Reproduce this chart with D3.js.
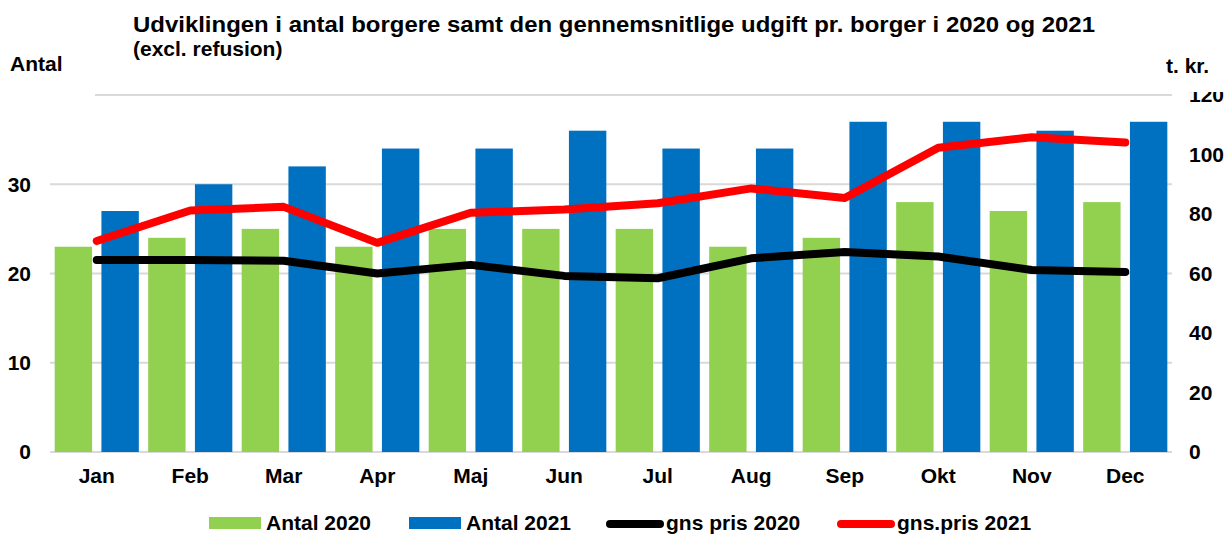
<!DOCTYPE html>
<html>
<head>
<meta charset="utf-8">
<style>
  body { margin: 0; background: #fff; }
  svg { font-family: "Liberation Sans", Arial, Helvetica, sans-serif; font-weight: bold; }
  .grid line { stroke: #d9d9d9; stroke-width: 2px; }
  .tick-label { font-size: 21px; fill: #000; }
  .legend text { font-size: 21px; }
</style>
</head>
<body>
<script src="https://cdnjs.cloudflare.com/ajax/libs/d3/7.8.5/d3.min.js"></script>
<script>

  var months = ["Jan", "Feb", "Mar", "Apr", "Maj", "Jun", "Jul", "Aug", "Sep", "Okt", "Nov", "Dec"];
  var antal2020 = [23, 24, 25, 23, 25, 25, 25, 23, 24, 28, 27, 28];
  var antal2021 = [27, 30, 32, 34, 34, 36, 34, 34, 37, 37, 36, 37];
  var pris2020 = [64.5, 64.5, 64.3, 60, 62.9, 59.2, 58.4, 65.1, 67.2, 65.7, 61.2, 60.5];
  var pris2021 = [70.9, 81.2, 82.4, 70.3, 80.4, 81.5, 83.6, 88.6, 85.4, 102.3, 105.8, 104];
  var leftTicks = [0, 10, 20, 30, 40];
  var rightTicks = [0, 20, 40, 60, 80, 100, 120];

  var width = 1227, height = 535;
  var plot = { left: 50, right: 1172, top: 95, bottom: 452 };

  var svg = d3.select("body").append("svg")
      .attr("width", width)
      .attr("height", height);

  var x0 = d3.scaleBand()
      .domain(months)
      .range([plot.left, plot.right])
      .paddingInner(0.1)
      .paddingOuter(0.05);

  var x1 = d3.scaleBand()
      .domain([0, 1])
      .range([0, x0.bandwidth()])
      .paddingInner(0.2);

  var yL = d3.scaleLinear().domain([0, 40]).range([plot.bottom, plot.top]);
  var yR = d3.scaleLinear().domain([0, 120]).range([plot.bottom, plot.top]);

  // gridlines (top one starts later, behind the "Antal" label)
  svg.append("g")
      .attr("class", "grid")
      .selectAll("line")
      .data(leftTicks)
      .join("line")
      .attr("x1", function(d) { return d === 40 ? 95 : plot.left; })
      .attr("x2", plot.right)
      .attr("y1", function(d) { return yL(d); })
      .attr("y2", function(d) { return yL(d); });

  // bars
  var series = [antal2020, antal2021];
  var barColors = ["#92d050", "#0070c0"];

  series.forEach(function(vals, si) {
    svg.append("g")
        .selectAll("rect")
        .data(vals)
        .join("rect")
        .attr("x", function(d, i) { return x0(months[i]) + x1(si); })
        .attr("width", x1.bandwidth())
        .attr("y", function(d) { return yL(d); })
        .attr("height", function(d) { return yL(0) - yL(d); })
        .attr("fill", barColors[si]);
  });

  // lines
  var line = d3.line()
      .x(function(d, i) { return x0(months[i]) + x0.bandwidth() / 2; })
      .y(function(d) { return yR(d); });

  [[pris2020, "#000000"], [pris2021, "#ff0000"]].forEach(function(s) {
    svg.append("path")
        .datum(s[0])
        .attr("d", line)
        .attr("fill", "none")
        .attr("stroke", s[1])
        .attr("stroke-width", 8)
        .attr("stroke-linecap", "round")
        .attr("stroke-linejoin", "round");
  });

  // left axis labels
  svg.append("g")
      .selectAll("text")
      .data(leftTicks.slice(0, 4))
      .join("text")
      .attr("class", "tick-label")
      .attr("x", 31)
      .attr("y", function(d) { return yL(d); })
      .attr("dy", "0.35em")
      .attr("text-anchor", "end")
      .text(function(d) { return d; });

  // right axis labels
  svg.append("g")
      .selectAll("text")
      .data(rightTicks)
      .join("text")
      .attr("class", "tick-label")
      .attr("x", 1189)
      .attr("y", function(d) { return yR(d); })
      .attr("dy", "0.35em")
      .text(function(d) { return d; });

  // white box of the unit label clips the top "120"
  svg.append("rect")
      .attr("x", 1180).attr("y", 76)
      .attr("width", 47).attr("height", 16)
      .attr("fill", "#fff");

  // month labels
  svg.append("g")
      .selectAll("text")
      .data(months)
      .join("text")
      .attr("class", "tick-label")
      .attr("x", function(d) { return x0(d) + x0.bandwidth() / 2; })
      .attr("y", 483)
      .attr("text-anchor", "middle")
      .text(function(d) { return d; });

  // titles
  svg.append("text")
      .attr("x", 133)
      .attr("y", 32)
      .style("font-size", "21.5px")
      .attr("textLength", 962)
      .attr("lengthAdjust", "spacingAndGlyphs")
      .text("Udviklingen i antal borgere samt den gennemsnitlige udgift pr. borger i 2020 og 2021");

  svg.append("text")
      .attr("x", 133)
      .attr("y", 56)
      .style("font-size", "21px")
      .text("(excl. refusion)");

  svg.append("text")
      .attr("x", 10)
      .attr("y", 71)
      .style("font-size", "21px")
      .text("Antal");

  svg.append("text")
      .attr("x", 1166)
      .attr("y", 73)
      .style("font-size", "21px")
      .text("t. kr.");

  // legend
  var legendItems = [
    { label: "Antal 2020", color: "#92d050", type: "rect", x: 209 },
    { label: "Antal 2021", color: "#0070c0", type: "rect", x: 409 },
    { label: "gns pris 2020", color: "#000000", type: "line", x: 606 },
    { label: "gns.pris 2021", color: "#ff0000", type: "line", x: 837 }
  ];

  var legend = svg.append("g").attr("class", "legend");

  legendItems.forEach(function(it) {
    if (it.type === "rect") {
      legend.append("rect")
          .attr("x", it.x).attr("y", 517)
          .attr("width", 52).attr("height", 12)
          .attr("fill", it.color);
      legend.append("text")
          .attr("x", it.x + 57).attr("y", 530)
          .text(it.label);
    } else {
      legend.append("line")
          .attr("x1", it.x + 4).attr("x2", it.x + 54)
          .attr("y1", 524).attr("y2", 524)
          .attr("stroke", it.color)
          .attr("stroke-width", 8)
          .attr("stroke-linecap", "round");
      legend.append("text")
          .attr("x", it.x + 60).attr("y", 530)
          .text(it.label);
    }
  });

</script>
</body>
</html>
